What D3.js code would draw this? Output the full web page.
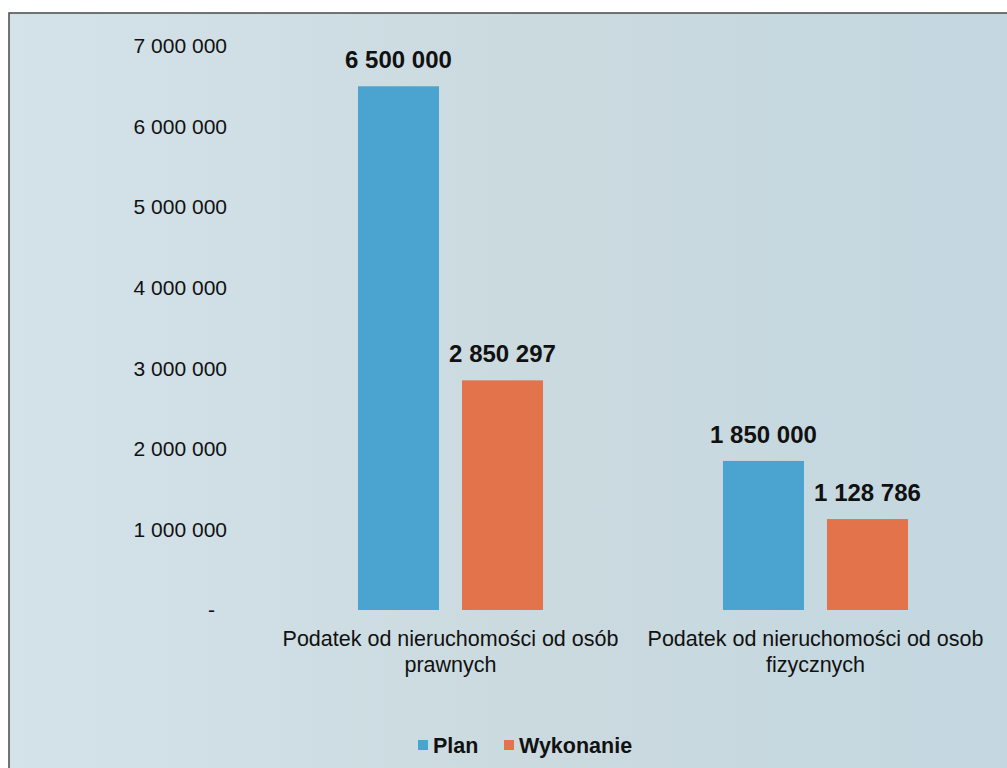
<!DOCTYPE html>
<html>
<head>
<meta charset="utf-8">
<script src="https://cdn.jsdelivr.net/npm/d3@7"></script>
<style>
  body { margin: 0; background: #ffffff; }
  text { font-family: "Liberation Sans", Arial, sans-serif; fill: #111; }
</style>
</head>
<body>
<div id="chart"></div>
<script>
var w = 1007, h = 768;

// data
var categories = ["Podatek od nieruchomości od osób prawnych", "Podatek od nieruchomości od osob fizycznych"];
var series = ["Plan", "Wykonanie"];
var planValues = [6500000, 1850000];
var wykonanieValues = [2850297, 1128786];
var yTicks = [0, 1000000, 2000000, 3000000, 4000000, 5000000, 6000000, 7000000];
var colors = ["#4ba3cf", "#e3734b"];

var rows = categories.map(function (c, i) {
    return { cat: c, values: [planValues[i], wykonanieValues[i]] };
});

var loc = d3.formatLocale({ decimal: ",", thousands: " ", grouping: [3], currency: ["", " zł"] });
var fmt = loc.format(",d");

var svg = d3.select("#chart").append("svg")
    .attr("width", w).attr("height", h);

svg.html(`<defs>
<linearGradient id="bg" x1="0%" y1="0%" x2="100%" y2="0%">
  <stop offset="0%" stop-color="#d4e3ea"/>
  <stop offset="50%" stop-color="#cbdadf"/>
  <stop offset="100%" stop-color="#c3d7e0"/>
</linearGradient>
</defs>`);

// background panel with a border (only top/left visible)
svg.append("rect")
    .attr("x", 9).attr("y", 13)
    .attr("width", w + 20).attr("height", h + 20)
    .attr("fill", "url(#bg)")
    .attr("stroke", "#4a4a4a").attr("stroke-width", 1.5);

var y = d3.scaleLinear().domain([0, 7000000]).range([610, 46]);
var x = d3.scaleBand().domain(categories).range([268, 998]);
var xs = d3.scaleBand().domain(series).range([0, x.bandwidth()])
    .paddingInner(0.221).paddingOuter(0.865);

// y axis labels
var yAxis = svg.append("g")
    .attr("transform", "translate(227,0)")
    .call(d3.axisLeft(y).tickValues(yTicks).tickSize(0).tickPadding(0)
        .tickFormat(function (d) { return d === 0 ? "-" : fmt(d); }));
yAxis.select(".domain").remove();
yAxis.selectAll("text")
    .attr("font-size", "21px")
    .attr("font-family", "Liberation Sans, Arial, sans-serif")
    .attr("fill", "#111")
    .attr("dx", function (d) { return d === 0 ? -12 : 0; });

// bars
var groups = svg.selectAll("g.cat")
    .data(rows)
    .enter().append("g")
    .attr("class", "cat")
    .attr("transform", function (d) { return "translate(" + x(d.cat) + ",0)"; });

groups.selectAll("rect")
    .data(function (d) { return d.values.map(function (v, i) { return { s: series[i], v: v, i: i }; }); })
    .enter().append("rect")
    .attr("x", function (d) { return xs(d.s); })
    .attr("y", function (d) { return y(d.v); })
    .attr("width", xs.bandwidth())
    .attr("height", function (d) { return y(0) - y(d.v); })
    .attr("fill", function (d) { return colors[d.i]; });

// value labels
groups.selectAll("text.val")
    .data(function (d) { return d.values.map(function (v, i) { return { s: series[i], v: v }; }); })
    .enter().append("text")
    .attr("class", "val")
    .attr("x", function (d) { return xs(d.s) + xs.bandwidth() / 2; })
    .attr("y", function (d) { return y(d.v) - 18; })
    .attr("text-anchor", "middle")
    .attr("font-size", "24px")
    .attr("font-weight", "bold")
    .text(function (d) { return fmt(d.v); });

// category labels, last word on a second line
groups.append("text")
    .attr("class", "catlabel")
    .attr("text-anchor", "middle")
    .attr("font-size", "21.5px")
    .each(function (d) {
        var words = d.cat.split(" ");
        var last = words.pop();
        var t = d3.select(this);
        t.append("tspan").attr("x", x.bandwidth() / 2).attr("y", 646).text(words.join(" "));
        t.append("tspan").attr("x", x.bandwidth() / 2).attr("y", 672).text(last);
    });

// legend
var legend = svg.append("g").attr("transform", "translate(418,745)");
var lx = [0, 86];
series.forEach(function (s, i) {
    var g = legend.append("g").attr("transform", "translate(" + lx[i] + ",0)");
    g.append("rect").attr("x", 0).attr("y", -5).attr("width", 10).attr("height", 10)
        .attr("fill", colors[i]);
    g.append("text").attr("x", 15).attr("y", 7.5)
        .attr("font-size", "21.5px").attr("font-weight", "bold")
        .text(s);
});
</script>
</body>
</html>
